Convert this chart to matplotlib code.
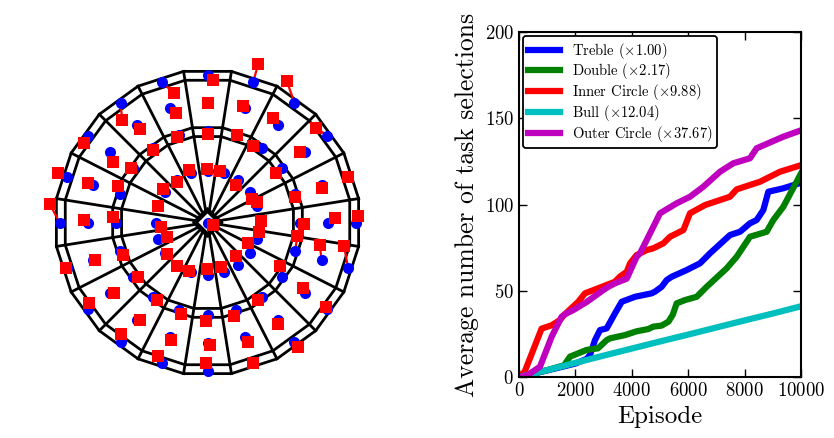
import numpy as np
import matplotlib
matplotlib.use("Agg")
from matplotlib import pyplot as plt

plt.rcParams['font.family'] = 'serif'
plt.rcParams['font.serif'] = ['cmr10']
plt.rcParams['mathtext.fontset'] = 'cm'
plt.rcParams['axes.formatter.use_mathtext'] = True

# ---- dartboard (units: pixels of the original picture, centre = 0,0) ----
sector_numbers = [20, 1, 18, 4, 13, 6, 10, 15, 2, 17, 3, 19, 7, 16, 8, 11, 14, 9, 12, 5]
ring_radii = [87, 96, 144, 153]          # treble in/out, double in/out
bull_radii = [11, 14]
target_radii = [148, 120, 92, 52]        # double, outer single, treble, inner single

# offsets of the hit (red) from the aimed point (blue), per ring, per sector
double_dx = [5.7, 5, -7.7, -11, 0, 2.5, -4.3, -1.5, 4, 0, -1.5, -3.3, 0.7, 1, -1, -10, -8.5, -3.7, 1.7, 12.3]
double_dy = [-5, 17.7, 21.7, 7.3, 0, 7, 22.3, 2.3, -5.2, 0, 7.8, 7.3, 8.7, 6.7, 0.7, 19, 4.2, -7.2, -17.3, -11.7]
outer_dx = [0, -2, -4.7, -5, 0.3, 7.3, -2, -1.3, 0, 3, 2.5, 1, 3.3, 4, 1.7, -4, -5.7, 2.7, 2.7, 6]
outer_dy = [0, 2.3, 7.5, -0.5, -2.5, 4.3, 15, 5, -4.5, -5.7, -2.8, -3.3, 0, 0, -0.7, 2.7, 2.3, -10, -3.3, -5]
treble_dx = [0.7, 0.7, -9, -5.8, 0, 4, 2.5, -2.2, -3.5, -2.2, -1.5, 2.3, 4, 4.7, 3.3, -2.3, -1.7, -1.7, 0, -1.7]
treble_dy = [-3.3, 0, 2, -4.2, -3, -1.3, 14.5, 10.5, -3, -6.2, -6, -4, -3.3, 0, -4, 5.7, 8.3, 0, -1.7, -1.7]
inner_dx = [-1, -4, -2.3, 2.7, 0, 1.7, 2, -1.2, -2.2, -2.5, -0.5, -2.3, 0, 2, 9, 5.5, 0, -2.3, 0, -2.3]
inner_dy = [1.7, 2.3, -4.8, -7.3, 4.5, 1.7, 6.3, 10.5, 8.2, 5, 6, 1, -1, -1, 1.7, -4, 0, 3.3, -2, 2.7]
bull_hit = (5.5, -2)

# ---- task selection curves ----
treble_x = [0, 1000, 2000, 2400, 2518, 2695, 2872, 3110, 3404, 3641, 4113, 4705, 4823, 5059, 5237,
            5414, 5946, 6418, 6773, 7482, 7837, 8191, 8428, 8664, 8841, 9373, 10000]
treble_y = [0, 3.8, 7.8, 10.5, 12.8, 21.4, 27.2, 28.2, 36.9, 43.6, 46.5, 48.5, 49.5, 52.3, 56.2,
            58.1, 62, 65.9, 71.7, 82.3, 84.2, 89.1, 91, 96.8, 107.4, 109.4, 112.6]
double_x = [0, 1000, 1600, 1809, 2400, 2800, 3110, 3227, 3759, 4173, 4586, 4764, 5059, 5300, 5450,
            5591, 5887, 6300, 6655, 7364, 7719, 8191, 8783, 9018, 9373, 10000]
double_y = [0, 4, 6.8, 11.8, 15.7, 16.6, 21.4, 22.4, 24.3, 26.5, 27.8, 29.2, 29.8, 32.1, 36,
            42.7, 44.6, 46.5, 52.3, 63, 69.7, 81.3, 84.2, 91, 98.7, 118]
inner_x = [0, 200, 800, 1160, 1450, 1600, 2100, 2340, 2800, 3400, 3580, 3820, 3940, 4170, 4530,
           4760, 5120, 5355, 5830, 6064, 6600, 7480, 7720, 8546, 9255, 10000]
inner_y = [0, 3, 28, 30, 33, 36, 43.6, 48.5, 51.4, 55.2, 58.2, 61, 65.9, 70.7, 73.6,
           74.6, 77.5, 81.3, 85.2, 94.9, 99.7, 104.5, 108.8, 113.2, 119, 122.8]
bull_x = [0, 1000, 2000, 3000, 4000, 5000, 6000, 7000, 8000, 9000, 10000]
bull_y = [0, 4, 8.2, 12.4, 16.5, 20.6, 24.6, 28.7, 32.8, 36.8, 41]
outer_x = [0, 300, 745, 1160, 1514, 1700, 1926, 2400, 2990, 3168, 3404, 3819, 4173, 4291, 4528,
           4764, 5000, 5591, 6064, 6536, 7128, 7600, 8191, 8428, 9373, 10000]
outer_y = [0, 1, 6, 23.4, 35, 37, 38.8, 43.5, 50.4, 52.3, 54.3, 57, 69.7, 71.7, 79.4,
           87.1, 94.9, 100.7, 104.5, 110.3, 119, 123.9, 126.8, 132.6, 139.3, 143]

series = [
    (treble_x, treble_y, 'b', r'Treble ($\times1.00$)'),
    (double_x, double_y, 'g', r'Double ($\times2.17$)'),
    (inner_x, inner_y, 'r', r'Inner Circle ($\times9.88$)'),
    (bull_x, bull_y, 'c', r'Bull ($\times12.04$)'),
    (outer_x, outer_y, 'm', r'Outer Circle ($\times37.67$)'),
]


def draw_board(ax):
    bounds = np.deg2rad(9 + 18 * np.arange(21))
    for r in ring_radii:
        ax.plot(r * np.cos(bounds), r * np.sin(bounds), 'k-', lw=2, zorder=1)
    for a in bounds[:-1]:
        ax.plot([12 * np.cos(a), ring_radii[-1] * np.cos(a)],
                [12 * np.sin(a), ring_radii[-1] * np.sin(a)], 'k-', lw=2, zorder=1)
    sq = np.deg2rad([0, 90, 180, 270, 360])
    for r in bull_radii:
        ax.plot(r * np.cos(sq), r * np.sin(sq), 'k-', lw=2, zorder=1)


def draw_throws(ax):
    centres = np.deg2rad(90 - 18 * np.arange(20))
    offsets = [(double_dx, double_dy), (outer_dx, outer_dy),
               (treble_dx, treble_dy), (inner_dx, inner_dy)]
    tx, ty, hx, hy = [0.0], [0.0], [bull_hit[0]], [bull_hit[1]]
    for r, (dx, dy) in zip(target_radii, offsets):
        x = r * np.cos(centres)
        y = r * np.sin(centres)
        tx += list(x)
        ty += list(y)
        hx += list(x + np.array(dx))
        hy += list(y + np.array(dy))
    for a, b, c, d in zip(tx, ty, hx, hy):
        ax.plot([a, c], [b, d], 'r-', lw=1.6, zorder=2)
    ax.plot(tx, ty, 'o', color='b', ms=8, mew=0, zorder=3)
    ax.plot(hx, hy, 's', color='r', ms=8, mew=0, zorder=4)


fig = plt.figure(figsize=(8.34, 4.38), dpi=100)

ax1 = fig.add_axes([37.5 / 834, 45.5 / 438, 340 / 834, 340 / 438])
draw_board(ax1)
draw_throws(ax1)
ax1.set_xlim(-170, 170)
ax1.set_ylim(-170, 170)
ax1.axis('off')

ax2 = fig.add_axes([519 / 834, 61 / 438, 282 / 834, 345 / 438])
for xs, ys, col, lab in series:
    ax2.plot(xs, ys, color=col, lw=4.5, label=lab, solid_joinstyle='round')
ax2.set_xlim(0, 10000)
ax2.set_ylim(0, 200)
ax2.set_xticks(np.arange(0, 10001, 2000))
ax2.set_yticks(np.arange(0, 201, 50))
ax2.tick_params(direction='in', top=True, right=True, length=6, width=1, labelsize=13.5)
for s in ax2.spines.values():
    s.set_linewidth(1.5)
ax2.set_xlabel('Episode', fontsize=18)
ax2.set_ylabel('Average number of task selections', fontsize=18.5)
leg = ax2.legend(loc='upper left', fontsize=10.5, handlelength=2.2, borderaxespad=0.3,
                 labelspacing=0.05, borderpad=0.3, fancybox=True, framealpha=1)
leg.get_frame().set_edgecolor('k')
leg.get_frame().set_linewidth(1.3)

fig.savefig('out.png', dpi=100)
